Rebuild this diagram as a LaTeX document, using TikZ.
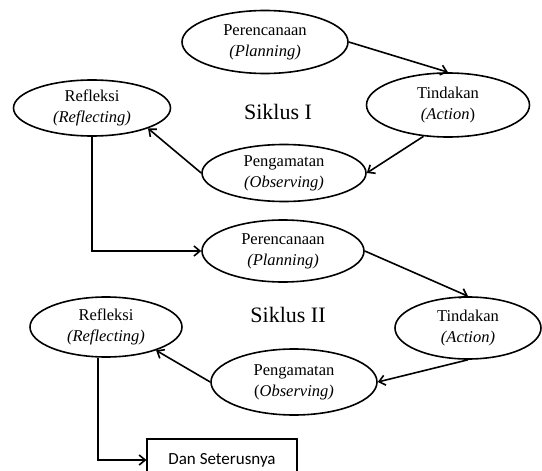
\documentclass[tikz,border=0pt]{standalone}
\usepackage{fontspec}
\setmainfont{Liberation Serif}
\newfontfamily\boxfont{Carlito}
\usetikzlibrary{arrows.meta,shapes.geometric}

\begin{document}
\begin{tikzpicture}[x=1pt,y=-1pt,
    cyc/.style={draw,ellipse,line width=1.6pt,inner sep=0pt,align=center,
      font=\fontsize{16.5}{21}\selectfont},
    arr/.style={line width=1.6pt,-{Straight Barb[length=6pt,width=10pt]}}]
  \useasboundingbox (0,0) rectangle (542,471);
  % Siklus I
  \node[cyc,minimum width=166,minimum height=63] (plan1) at (265,42) {Perencanaan\\\textit{(Planning)}};
  \node[cyc,minimum width=163,minimum height=64] (act1) at (448,105) {Tindakan\\\textit{(Action})};
  \node[cyc,minimum width=164,minimum height=57] (obs1) at (284,173) {Pengamatan\\\textit{(Observing)}};
  \node[cyc,minimum width=157,minimum height=56] (ref1) at (92,108) {Refleksi\\\textit{(Reflecting)}};
  \node[font=\fontsize{22}{26}\selectfont] (sik1) at (278,112) {Siklus I};
  % Siklus II
  \node[cyc,minimum width=162,minimum height=62] (plan2) at (283,251) {Perencanaan\\\textit{(Planning)}};
  \node[cyc,minimum width=146,minimum height=62] (act2) at (468,328) {Tindakan\\\textit{(Action)}};
  \node[cyc,minimum width=166,minimum height=66] (obs2) at (294,382) {Pengamatan\\(\textit{Observing)}};
  \node[cyc,minimum width=152,minimum height=60] (ref2) at (106,327) {Refleksi\\\textit{(Reflecting)}};
  \node[font=\fontsize{22}{26}\selectfont] (sik2) at (288,315) {Siklus II};
  \node[draw,line width=1.2pt,minimum width=150,minimum height=42,font=\boxfont\fontsize{17}{20}\selectfont] (next) at (222,460) {Dan Seterusnya};

  \draw[arr] (plan1.east) -- (act1.north);
  \draw[arr] (act1.-128) -- (obs1.east);
  \draw[arr] (obs1.west) -- (ref1.-20);
  \draw[arr] (ref1.south) |- (plan2.west);
  \draw[arr] (plan2.east) -- (act2.north);
  \draw[arr] (act2.south) -- (obs2.east);
  \draw[arr] (obs2.west) -- (ref2.-25);
  \draw[arr] (ref2.-105) |- (next.west);
\end{tikzpicture}
\end{document}
